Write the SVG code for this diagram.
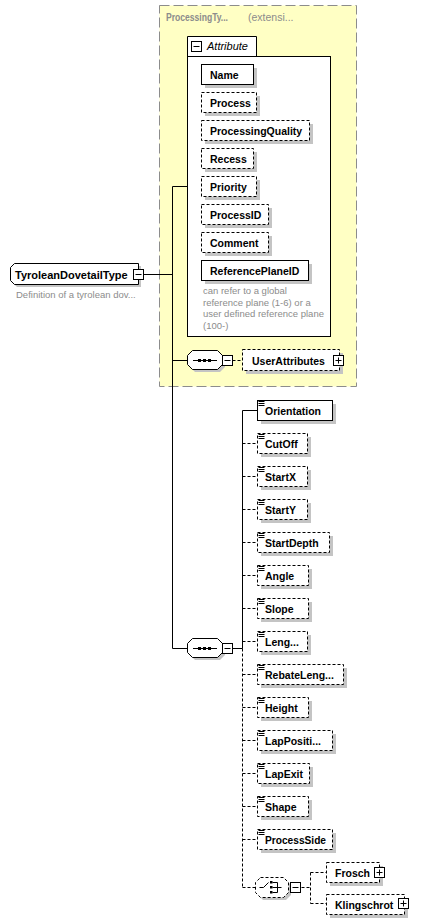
<svg xmlns="http://www.w3.org/2000/svg" width="433" height="924" viewBox="0 0 433 924">
<style>
.bg{fill:#fff}
.box{fill:#fff;stroke:#000;stroke-width:1}
.opt{stroke-dasharray:3,2}
.sh{fill:#c4c4c4}
.ln{stroke:#000;stroke-width:1;fill:none}
.dl{stroke-dasharray:3,2}
.t{font-family:"Liberation Sans",Arial,sans-serif;font-size:10.5px;font-weight:bold;fill:#000}
.d{font-family:"Liberation Sans",Arial,sans-serif;font-size:9.5px;fill:#8c8c8c}
.ti{font-family:"Liberation Sans",Arial,sans-serif;font-size:10.5px;font-weight:bold;fill:#8c8c8c}
.tr{font-family:"Liberation Sans",Arial,sans-serif;font-size:10.5px;fill:#8c8c8c}
.it{font-family:"Liberation Sans",Arial,sans-serif;font-size:11px;font-style:italic;fill:#000}
</style>
<defs>
<g id="ico"><path class="ln" d="M0,0.5h6M0,2.5h6M0,4.5h6"/></g>
<g id="minus"><rect x="0.5" y="0.5" width="10" height="10" fill="#fff" stroke="#000"/><path class="ln" d="M2.5,5.5h6"/></g>
<g id="plus"><rect x="0.5" y="0.5" width="10" height="10" fill="#fff" stroke="#000"/><path class="ln" d="M2.5,5.5h6M5.5,2.5v6"/></g>
<g id="seqdots"><path class="ln" d="M0,0.5h24"/><rect x="5" y="-1" width="3" height="3" fill="#000"/><rect x="10" y="-1" width="3" height="3" fill="#000"/><rect x="15" y="-1" width="3" height="3" fill="#000"/></g>
</defs>
<rect class="bg" x="0" y="0" width="433" height="924"/>

<g id="group-ProcessingType">
<rect x="159.5" y="5.5" width="197" height="381" fill="#ffffc4" stroke="#8c8c8c" stroke-dasharray="10,4"/>
<text class="ti" x="166" y="21" textLength="62" lengthAdjust="spacingAndGlyphs">ProcessingTy...</text>
<text class="tr" x="248" y="21">(extensi...</text>
</g>

<g id="connectors">
<path class="ln" d="M143.5,274.5H172.5M172.5,186.5V648.5M172.5,186.5H187.5M172.5,360.5H187.5M172.5,648.5H187.5"/>
<path class="ln dl" d="M232.5,360.5H242.5"/>
<path class="ln" d="M232.5,648.5H242.5M242.5,410.5V648.5M242.5,410.5H257.5"/>
<path class="ln dl" d="M242.5,648.5V887.5M242.5,887.5H255.5"/>
<path class="ln dl" d="M242.5,443.5H257.5M242.5,476.5H257.5M242.5,509.5H257.5M242.5,542.5H257.5M242.5,575.5H257.5M242.5,608.5H257.5M242.5,641.5H257.5M242.5,674.5H257.5M242.5,707.5H257.5M242.5,740.5H257.5M242.5,773.5H257.5M242.5,806.5H257.5M242.5,839.5H257.5"/>
<path class="ln dl" d="M301.5,887.5H310.5M310.5,872.5V903.5M310.5,872.5H326.5M310.5,903.5H326.5"/>
</g>

<g id="node-TyroleanDovetailType">
<path class="sh" d="M17,266H141V287H17L13,283V270Z"/>
<path class="box" d="M14.5,263.5H138.5V284.5H14.5L10.5,280.5V267.5Z"/>
<use href="#minus" x="133" y="269"/>
<text class="t" x="15" y="278.5" style="font-size:11px">TyroleanDovetailType</text>
<text class="d" x="16" y="298">Definition of a tyrolean dov...</text>
</g>

<g id="attributes">
<path class="box" d="M187.5,56.5V36.5H256.5V56.5"/>
<rect class="box" x="187.5" y="56.5" width="143" height="280"/>
<use href="#minus" x="191" y="41"/>
<text class="it" x="207" y="50">Attribute</text>
<g id="attr-Name"><rect class="sh" x="205" y="68" width="52" height="20"/><rect class="box" x="201.5" y="64.5" width="52" height="20"/><text class="t" x="210" y="78.5">Name</text></g>
<g id="attr-Process"><rect class="sh" x="205" y="96" width="55" height="20"/><rect class="box opt" x="201.5" y="92.5" width="55" height="20"/><text class="t" x="210" y="106.5">Process</text></g>
<g id="attr-ProcessingQuality"><rect class="sh" x="205" y="124" width="108" height="20"/><rect class="box opt" x="201.5" y="120.5" width="108" height="20"/><text class="t" x="210" y="134.5">ProcessingQuality</text></g>
<g id="attr-Recess"><rect class="sh" x="205" y="152" width="52" height="20"/><rect class="box opt" x="201.5" y="148.5" width="52" height="20"/><text class="t" x="210" y="162.5">Recess</text></g>
<g id="attr-Priority"><rect class="sh" x="205" y="180" width="55" height="20"/><rect class="box opt" x="201.5" y="176.5" width="55" height="20"/><text class="t" x="210" y="190.5">Priority</text></g>
<g id="attr-ProcessID"><rect class="sh" x="205" y="208" width="67" height="20"/><rect class="box opt" x="201.5" y="204.5" width="67" height="20"/><text class="t" x="210" y="218.5">ProcessID</text></g>
<g id="attr-Comment"><rect class="sh" x="205" y="236" width="67" height="20"/><rect class="box opt" x="201.5" y="232.5" width="67" height="20"/><text class="t" x="210" y="246.5">Comment</text></g>
<g id="attr-ReferencePlaneID"><rect class="sh" x="205" y="264" width="107" height="20"/><rect class="box" x="201.5" y="260.5" width="107" height="20"/><text class="t" x="210" y="274.5">ReferencePlaneID</text></g>
<text class="d" x="203" y="294">can refer to a global</text>
<text class="d" x="203" y="305.5">reference plane (1-6) or a</text>
<text class="d" x="203" y="317">user defined reference plane</text>
<text class="d" x="203" y="328.5">(100-)</text>
</g>

<g id="seq-1">
<path class="sh" d="M195,353H220L225,358V367L220,372H195L190,367V358Z"/>
<path class="box" d="M192.5,350.5H217.5L222.5,355.5V364.5L217.5,369.5H192.5L187.5,364.5V355.5Z"/>
<use href="#seqdots" x="193" y="360"/>
<use href="#minus" x="222" y="355"/>
</g>

<g id="el-UserAttributes">
<rect class="sh" x="246" y="353" width="97" height="21"/>
<rect class="box opt" x="242.5" y="349.5" width="97" height="21"/>
<text class="t" x="252" y="364.5">UserAttributes</text>
<use href="#plus" x="333" y="355"/>
</g>

<g id="seq-2">
<path class="sh" d="M195,641H220L225,646V655L220,660H195L190,655V646Z"/>
<path class="box" d="M192.5,638.5H217.5L222.5,643.5V652.5L217.5,657.5H192.5L187.5,652.5V643.5Z"/>
<use href="#seqdots" x="193" y="648"/>
<use href="#minus" x="222" y="643"/>
</g>

<g id="el-Orientation"><rect class="sh" x="261" y="404" width="75" height="20"/><rect class="box" x="257.5" y="400.5" width="75" height="20"/><use href="#ico" x="258.5" y="401"/><text class="t" x="265" y="415">Orientation</text></g>
<g id="el-CutOff"><rect class="sh" x="261" y="437" width="50" height="20"/><rect class="box opt" x="257.5" y="433.5" width="50" height="20"/><use href="#ico" x="258.5" y="434"/><text class="t" x="265" y="448">CutOff</text></g>
<g id="el-StartX"><rect class="sh" x="261" y="470" width="50" height="20"/><rect class="box opt" x="257.5" y="466.5" width="50" height="20"/><use href="#ico" x="258.5" y="467"/><text class="t" x="265" y="481">StartX</text></g>
<g id="el-StartY"><rect class="sh" x="261" y="503" width="50" height="20"/><rect class="box opt" x="257.5" y="499.5" width="50" height="20"/><use href="#ico" x="258.5" y="500"/><text class="t" x="265" y="514">StartY</text></g>
<g id="el-StartDepth"><rect class="sh" x="261" y="536" width="72" height="20"/><rect class="box opt" x="257.5" y="532.5" width="72" height="20"/><use href="#ico" x="258.5" y="533"/><text class="t" x="265" y="547">StartDepth</text></g>
<g id="el-Angle"><rect class="sh" x="261" y="569" width="51" height="20"/><rect class="box opt" x="257.5" y="565.5" width="51" height="20"/><use href="#ico" x="258.5" y="566"/><text class="t" x="265" y="580">Angle</text></g>
<g id="el-Slope"><rect class="sh" x="261" y="602" width="51" height="20"/><rect class="box opt" x="257.5" y="598.5" width="51" height="20"/><use href="#ico" x="258.5" y="599"/><text class="t" x="265" y="613">Slope</text></g>
<g id="el-Length"><rect class="sh" x="261" y="635" width="50" height="20"/><rect class="box opt" x="257.5" y="631.5" width="50" height="20"/><use href="#ico" x="258.5" y="632"/><text class="t" x="265" y="646">Leng...</text></g>
<g id="el-RebateLength"><rect class="sh" x="261" y="668" width="86" height="20"/><rect class="box opt" x="257.5" y="664.5" width="86" height="20"/><use href="#ico" x="258.5" y="665"/><text class="t" x="265" y="679">RebateLeng...</text></g>
<g id="el-Height"><rect class="sh" x="261" y="701" width="51" height="20"/><rect class="box opt" x="257.5" y="697.5" width="51" height="20"/><use href="#ico" x="258.5" y="698"/><text class="t" x="265" y="712">Height</text></g>
<g id="el-LapPosition"><rect class="sh" x="261" y="734" width="75" height="20"/><rect class="box opt" x="257.5" y="730.5" width="75" height="20"/><use href="#ico" x="258.5" y="731"/><text class="t" x="265" y="745">LapPositi...</text></g>
<g id="el-LapExit"><rect class="sh" x="261" y="767" width="52" height="20"/><rect class="box opt" x="257.5" y="763.5" width="52" height="20"/><use href="#ico" x="258.5" y="764"/><text class="t" x="265" y="778">LapExit</text></g>
<g id="el-Shape"><rect class="sh" x="261" y="800" width="51" height="20"/><rect class="box opt" x="257.5" y="796.5" width="51" height="20"/><use href="#ico" x="258.5" y="797"/><text class="t" x="265" y="811">Shape</text></g>
<g id="el-ProcessSide"><rect class="sh" x="261" y="833" width="75" height="20"/><rect class="box opt" x="257.5" y="829.5" width="75" height="20"/><use href="#ico" x="258.5" y="830"/><text class="t" x="265" y="844" textLength="61" lengthAdjust="spacingAndGlyphs">ProcessSide</text></g>

<g id="choice">
<path class="sh" d="M263,880H286L291,885V895L286,900H263L258,895V885Z"/>
<path class="box opt" d="M260.5,877.5H283.5L288.5,882.5V892.5L283.5,897.5H260.5L255.5,892.5V882.5Z"/>
<path class="ln" d="M259.5,887.5H263.5L268.5,882.5"/>
<rect x="270" y="881" width="2.5" height="2.5" fill="#000"/>
<rect x="270" y="886" width="2.5" height="2.5" fill="#000"/>
<rect x="270" y="891" width="2.5" height="2.5" fill="#000"/>
<path class="ln" d="M272.5,882.5H277.5M272.5,887.5H281.5M272.5,892.5H277.5M277.5,882.5V892.5"/>
<use href="#minus" x="290" y="882"/>
</g>

<g id="el-Frosch">
<rect class="sh" x="330" y="866" width="53" height="20"/>
<rect class="box opt" x="326.5" y="862.5" width="53" height="20"/>
<text class="t" x="335" y="876.5">Frosch</text>
<use href="#plus" x="374" y="867"/>
</g>
<g id="el-Klingschrot">
<rect class="sh" x="330" y="898" width="78" height="20"/>
<rect class="box opt" x="326.5" y="894.5" width="78" height="20"/>
<text class="t" x="335" y="908.5">Klingschrot</text>
<use href="#plus" x="398" y="898"/>
</g>
</svg>
